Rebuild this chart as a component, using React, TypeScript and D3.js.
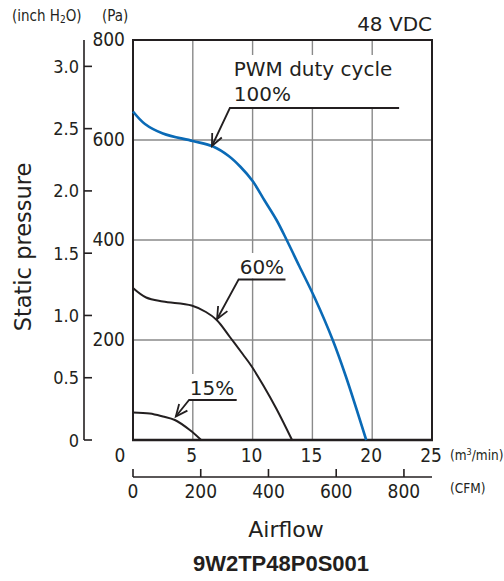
import React from "react";
import * as d3 from "d3";

const W = 504;
const H = 581;

// Axis ticks
const X_TICKS = [0, 5, 10, 15, 20, 25];
const PA_TICKS = [200, 400, 600, 800];
const INCH_TICKS = [0, 0.5, 1.0, 1.5, 2.0, 2.5, 3.0];
const CFM_TICKS = [0, 200, 400, 600, 800];
const GRID_X = [5, 10, 15, 20];
const GRID_Y = [200, 400, 600];

// Series (airflow m3/min, static pressure Pa)
const flow100 = [0, 1, 2.5, 5, 6.7, 8, 9, 10, 11, 12, 12.85, 13.9, 15.2, 16.7, 17.8, 19.5];
const pa100 = [657, 632, 613, 598, 587, 568, 546, 518, 479, 440, 400, 348, 284, 200, 127, 0];
const flow60 = [0, 1.1, 2.5, 4.9, 6.1, 7, 8.1, 9.2, 9.9, 10.9, 12, 13.3];
const pa60 = [304, 285, 277, 269, 256, 240, 206, 171, 148, 109, 62, 0];
const flow15 = [0, 1.4, 2.5, 3.5, 4.75, 5.7];
const pa15 = [55, 53, 47, 40, 20, 0];

// Annotations (data units)
const LABELS = [
  { lines: ["PWM duty cycle", "100%"], tip: [6.6, 588], start: [8.1, 664], end: 22.25, textX: 8.42, base: [728, 678] },
  { lines: ["60%"], tip: [7.03, 242], start: [8.83, 321], end: 12.75, textX: 8.92, base: [332] },
  { lines: ["15%"], tip: [3.58, 47], start: [4.69, 80], end: 8.67, textX: 4.75, base: [90] },
];

const PA_PER_INCH = 249.089;
const M3_PER_CFM = 0.0283168;

const NUM_FONT = "'Liberation Sans Narrow', 'DejaVu Sans Condensed', 'Roboto', sans-serif";
const TXT_FONT = "'DejaVu Sans', 'Noto Sans', sans-serif";
const INK = "#231f20";
const GRID = "#8a8a8a";

export default function App() {
  const x = d3.scaleLinear().domain([0, 25]).range([133, 432]);
  const y = d3.scaleLinear().domain([0, 800]).range([440, 40]);
  const yIn = d3.scaleLinear().domain([0, 800 / PA_PER_INCH]).range([440, 40]);
  const xCfm = d3.scaleLinear().domain([0, 25 / M3_PER_CFM]).range([133, 432]);

  const line = d3
    .line<[number, number]>()
    .x((d) => x(d[0]))
    .y((d) => y(d[1]))
    .curve(d3.curveCatmullRom.alpha(0.5));

  const series = [
    { f: flow100, p: pa100, color: "#0a6ab6", w: 2.6 },
    { f: flow60, p: pa60, color: INK, w: 2 },
    { f: flow15, p: pa15, color: INK, w: 2 },
  ];

  return (
    <svg width={W} height={H} style={{ position: "absolute", left: 0, top: 0, background: "#fff" }}>
      {/* grid */}
      {GRID_X.map((v) => (
        <line key={"gx" + v} x1={x(v)} x2={x(v)} y1={y(800)} y2={y(0)} stroke={GRID} strokeWidth={1.4} />
      ))}
      {GRID_Y.map((v) => (
        <line key={"gy" + v} x1={x(0)} x2={x(25)} y1={y(v)} y2={y(v)} stroke={GRID} strokeWidth={1.4} />
      ))}

      {/* label backgrounds */}
      {LABELS.map((l, i) => {
        const top = y(l.base[0]) - 21;
        return (
          <rect
            key={"bg" + i}
            x={x(l.start[0]) + 1}
            y={top}
            width={x(l.end) - x(l.start[0]) + 4}
            height={y(l.start[1]) - top - 1}
            fill="#fff"
          />
        );
      })}

      {/* frame */}
      <rect x={x(0)} y={y(800)} width={x(25) - x(0)} height={y(0) - y(800)} fill="none" stroke={INK} strokeWidth={2} />
      <line x1={x(0) - 1} x2={x(25) + 1} y1={y(0)} y2={y(0)} stroke={INK} strokeWidth={2.6} />

      {/* curves */}
      {series.map((s, i) => (
        <path
          key={"s" + i}
          d={line(s.f.map((f, j) => [f, s.p[j]] as [number, number])) || ""}
          fill="none"
          stroke={s.color}
          strokeWidth={s.w}
        />
      ))}

      {/* annotations */}
      {LABELS.map((l, i) => {
        const sx = x(l.start[0]);
        const sy = y(l.start[1]);
        const tx = x(l.tip[0]);
        const ty = y(l.tip[1]);
        const ang = Math.atan2(sy - ty, sx - tx);
        const len = 13;
        const spread = 0.42;
        const a1 = [tx + len * Math.cos(ang + spread), ty + len * Math.sin(ang + spread)];
        const a2 = [tx + len * Math.cos(ang - spread), ty + len * Math.sin(ang - spread)];
        return (
          <g key={"a" + i}>
            <polyline points={`${x(l.end)},${sy} ${sx},${sy} ${tx},${ty}`} fill="none" stroke={INK} strokeWidth={1.8} />
            <polyline points={`${a1[0]},${a1[1]} ${tx},${ty} ${a2[0]},${a2[1]}`} fill="none" stroke={INK} strokeWidth={1.8} />
            {l.lines.map((t, k) => (
              <text key={k} x={x(l.textX)} y={y(l.base[k])} fontFamily={TXT_FONT} fontSize={20} fill={INK}>
                {t}
              </text>
            ))}
          </g>
        );
      })}

      {/* Pa axis labels */}
      {PA_TICKS.map((v) => (
        <text key={"pa" + v} x={125} y={y(v) + 6} textAnchor="end" fontFamily={NUM_FONT} fontSize={19} fill={INK}>
          {v}
        </text>
      ))}

      {/* inch H2O axis */}
      <line x1={84} x2={84} y1={yIn(800 / PA_PER_INCH)} y2={yIn(0)} stroke={INK} strokeWidth={1.6} />
      {INCH_TICKS.map((v) => (
        <g key={"in" + v}>
          <line x1={84} x2={92} y1={yIn(v)} y2={yIn(v)} stroke={INK} strokeWidth={1.6} />
          <text x={79} y={yIn(v) + 6.5} textAnchor="end" fontFamily={NUM_FONT} fontSize={18} fill={INK}>
            {v === 0 ? "0" : v.toFixed(1)}
          </text>
        </g>
      ))}

      {/* header units */}
      <text x={12} y={21} fontFamily={NUM_FONT} fontSize={15} fill={INK}>
        (inch H<tspan fontSize={10} dy={2}>2</tspan>
        <tspan dy={-2}>O)</tspan>
      </text>
      <text x={102} y={21} fontFamily={NUM_FONT} fontSize={15} fill={INK}>
        (Pa)
      </text>
      <text x={432} y={31} textAnchor="end" fontFamily={TXT_FONT} fontSize={20} fill={INK}>
        48 VDC
      </text>

      {/* x axis m3/min labels */}
      {X_TICKS.map((v) => (
        <text
          key={"xt" + v}
          x={v === 0 ? 120 : x(v) - 1}
          y={462}
          textAnchor="middle"
          fontFamily={NUM_FONT}
          fontSize={19}
          fill={INK}
        >
          {v}
        </text>
      ))}
      <text x={450} y={460} fontFamily={NUM_FONT} fontSize={13.5} fill={INK}>
        (m<tspan fontSize={9} dy={-5}>3</tspan>
        <tspan dy={5}>/min)</tspan>
      </text>

      {/* CFM axis */}
      <line x1={x(0)} x2={x(25)} y1={477} y2={477} stroke={INK} strokeWidth={1.6} />
      {CFM_TICKS.map((v) => (
        <g key={"cfm" + v}>
          <line x1={xCfm(v)} x2={xCfm(v)} y1={469} y2={477} stroke={INK} strokeWidth={1.6} />
          <text x={xCfm(v)} y={498} textAnchor="middle" fontFamily={NUM_FONT} fontSize={19} fill={INK}>
            {v}
          </text>
        </g>
      ))}
      <text x={450} y={493} fontFamily={NUM_FONT} fontSize={13.5} fill={INK}>
        (CFM)
      </text>

      {/* titles */}
      <text x={286} y={537} textAnchor="middle" fontFamily={TXT_FONT} fontSize={22} fill={INK}>
        Airflow
      </text>
      <text
        transform={`translate(31,247) rotate(-90)`}
        textAnchor="middle"
        fontFamily={TXT_FONT}
        fontSize={22.5}
        fill={INK}
      >
        Static pressure
      </text>
      <text
        x={281}
        y={571}
        textAnchor="middle"
        fontFamily="'Liberation Sans', Arial, sans-serif"
        fontWeight="bold"
        fontSize={22}
        fill={INK}
      >
        9W2TP48P0S001
      </text>
    </svg>
  );
}
